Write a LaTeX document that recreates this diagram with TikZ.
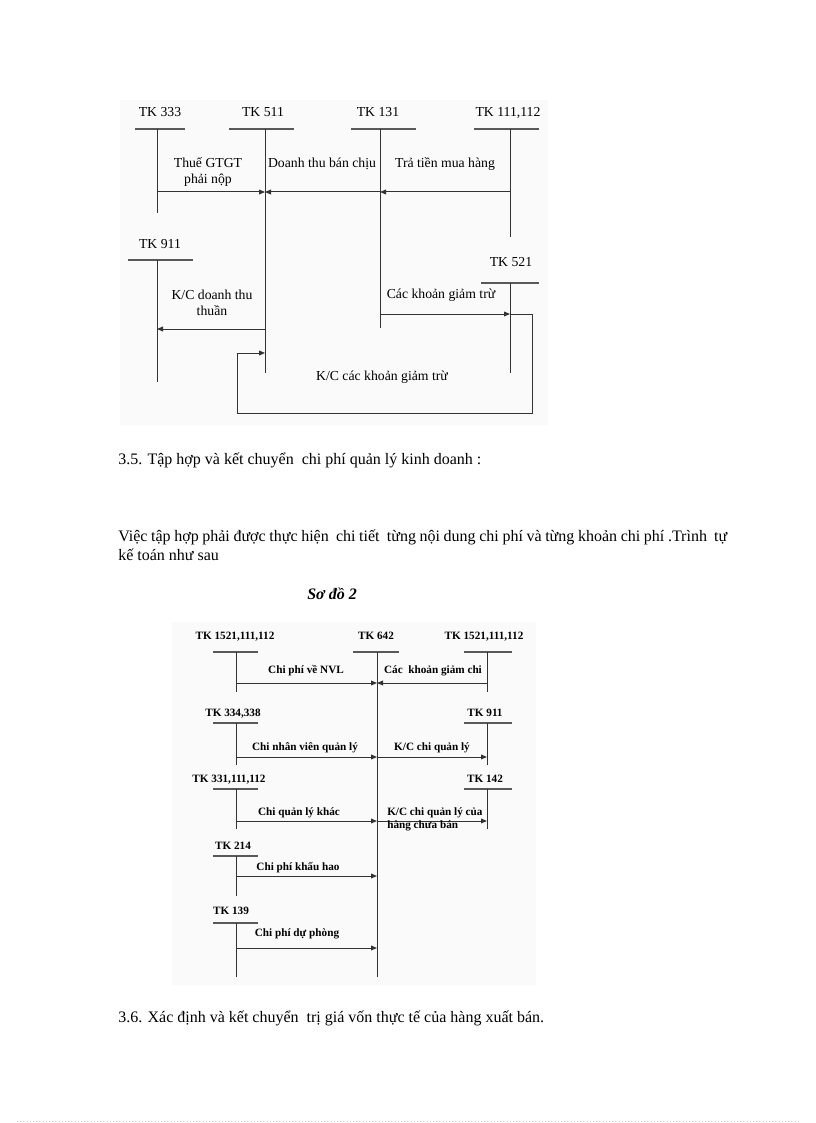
\documentclass[tikz,border=0pt]{standalone}
\usepackage{fontspec}
\setmainfont{Liberation Serif}
\usetikzlibrary{arrows.meta}
\begin{document}
\begin{tikzpicture}[x=0.75pt,y=-0.75pt,
  tline/.style={line width=0.75pt, draw=black!80},
  tbar/.style={line width=1.1pt, draw=black!65},
  arr/.style={tline,-{Triangle[length=4.5pt,width=3.6pt]}},
  lab/.style={font=\fontsize{10.3}{12}\selectfont, inner sep=0, align=center},
  lab1/.style={lab, text height=7pt, text depth=2.2pt},
  slab/.style={font=\fontsize{8.4}{8.4}\selectfont\bfseries, inner sep=0, align=center},
  slab1/.style={slab, text height=5.8pt, text depth=1.8pt},
  body/.style={font=\fontsize{12}{14.25}\selectfont, inner sep=0, anchor=west, text height=8.2pt, text depth=2.6pt},
  ]
\useasboundingbox (0,0) rectangle (816,1123);
\fill[black!2] (120,100) rectangle (548,425);
\fill[black!2] (172,622) rectangle (536,985);

% ---------------- top diagram ----------------
\node[lab1] (t333) at (160,113) {TK 333};
\draw[tbar] (135,129) -- (185,129);
\coordinate (v333) at (157,129);
\draw[tline] (v333) -- (157,213);

\node[lab1] (t511) at (263,113) {TK 511};
\draw[tbar] (229,129) -- (294,129);
\coordinate (v511) at (265,129);
\draw[tline] (v511) -- (265,373);

\node[lab1] (t131) at (378,113) {TK 131};
\draw[tbar] (351,129) -- (416,129);
\coordinate (v131) at (380,129);
\draw[tline] (v131) -- (380,328);

\node[lab1] (t111) at (508,113) {TK 111,112};
\draw[tbar] (474,129) -- (539,129);
\coordinate (v111) at (510,129);
\draw[tline] (v111) -- (510,237);

\node[lab1] (t911) at (160,245) {TK 911};
\draw[tbar] (128,260) -- (193,260);
\coordinate (v911) at (157,260);
\draw[tline] (v911) -- (157,382);

\node[lab1] (t521) at (511,263) {TK 521};
\draw[tbar] (481,283) -- (539,283);
\coordinate (v521) at (510,283);
\draw[tline] (v521) -- (510,373);

\coordinate (r1) at (0,192);
\coordinate (r2) at (0,314);
\coordinate (r3) at (0,329);
\coordinate (r4) at (0,353);
\coordinate (c1) at (532,314);
\coordinate (c2) at (532,413);
\coordinate (c3) at (237,413);
\coordinate (c4) at (237,353);

\draw[arr] (v333 |- r1) -- (v511 |- r1);
\draw[arr] (v131 |- r1) -- (v511 |- r1);
\draw[arr] (v111 |- r1) -- (v131 |- r1);
\draw[arr] (v511 |- r3) -- (v911 |- r3);
\draw[arr] (v131 |- r2) -- (v521 |- r2);
\draw[arr] (v521 |- r2) -- (c1) -- (c2) -- (c3) -- (c4) -- (v511 |- r4);

\node[lab] (l1) at (208,172) {Thuế GTGT\\phải nộp};
\node[lab1] (l2) at (322,164) {Doanh thu bán chịu};
\node[lab1] (l3) at (445,164) {Trả tiền mua hàng};
\node[lab] (l4) at (212,303) {K/C doanh thu\\thuần};
\node[lab1] (l5) at (441,295) {Các khoản giảm trừ};
\node[lab1] (l6) at (382,377) {K/C các khoản giảm trừ};

% ---------------- text ----------------
\node[body] (h35) at (118,461) {3.5. Tập hợp và kết chuyển\ \ chi phí quản lý kinh doanh :};
\node[anchor=north west, inner sep=0] (para) at (118,530) {\parbox{456.75pt}{\fontsize{12}{14.25}\selectfont Việc tập hợp phải được thực hiện\ \ chi tiết\ \ từng nội dung chi phí và từng khoản chi phí .Trình\ \ tự\linebreak kế toán như sau}};
\node[font=\fontsize{12}{14}\selectfont\bfseries\itshape, inner sep=0, text height=8.2pt, text depth=2.6pt] (sd2) at (332,596) {Sơ đồ 2};
\node[body] (h36) at (118,1019) {3.6. Xác định và kết chuyển\ \ trị giá vốn thực tế của hàng xuất bán.};

% ---------------- bottom diagram ----------------
\node[slab1] (bL1) at (235,637) {TK 1521,111,112};
\draw[tbar] (213,652) -- (258,652);
\coordinate (vL1) at (236,652);
\draw[tline] (vL1) -- (236,692);

\node[slab1] (b642) at (376,637) {TK 642};
\draw[tbar] (353,652) -- (399,652);
\coordinate (v642) at (377,652);
\draw[tline] (v642) -- (377,977);

\node[slab1] (bR1) at (484,637) {TK 1521,111,112};
\draw[tbar] (464,652) -- (512,652);
\coordinate (vR1) at (487,652);
\draw[tline] (vR1) -- (487,692);

\node[slab1] (bL2) at (233,714) {TK 334,338};
\draw[tbar] (213,723) -- (258,723);
\coordinate (vL2) at (236,723);
\draw[tline] (vL2) -- (236,765);

\node[slab1] (bR2) at (485,714) {TK 911};
\draw[tbar] (464,723) -- (512,723);
\coordinate (vR2) at (487,723);
\draw[tline] (vR2) -- (487,765);

\node[slab1] (bL3) at (229,780) {TK 331,111,112};
\draw[tbar] (213,789) -- (258,789);
\coordinate (vL3) at (236,789);
\draw[tline] (vL3) -- (236,829);

\node[slab1] (bR3) at (485,780) {TK 142};
\draw[tbar] (464,789) -- (512,789);
\coordinate (vR3) at (487,789);
\draw[tline] (vR3) -- (487,829);

\node[slab1] (bL4) at (233,847) {TK 214};
\draw[tbar] (213,856) -- (258,856);
\coordinate (vL4) at (236,856);
\draw[tline] (vL4) -- (236,896);

\node[slab1] (bL5) at (231,912) {TK 139};
\draw[tbar] (213,923) -- (258,923);
\coordinate (vL5) at (236,923);
\draw[tline] (vL5) -- (236,977);

\coordinate (b1) at (0,683);
\coordinate (b2) at (0,757);
\coordinate (b3) at (0,821);
\coordinate (b4) at (0,876);
\coordinate (b5) at (0,948);

\draw[arr] (vL1 |- b1) -- (v642 |- b1);
\draw[arr] (vR1 |- b1) -- (v642 |- b1);
\draw[arr] (vL2 |- b2) -- (v642 |- b2);
\draw[arr] (v642 |- b2) -- (vR2 |- b2);
\draw[arr] (vL3 |- b3) -- (v642 |- b3);
\draw[arr] (v642 |- b3) -- (vR3 |- b3);
\draw[arr] (vL4 |- b4) -- (v642 |- b4);
\draw[arr] (vL5 |- b5) -- (v642 |- b5);

\node[slab1] (m1) at (306,671) {Chi phí về NVL};
\node[slab1] (m2) at (433,671) {Các\ \ khoản giảm chi};
\node[slab1] (m3) at (305,748) {Chi nhân viên quản lý};
\node[slab1] (m4) at (432,748) {K/C chi quản lý};
\node[slab1] (m5) at (299,813) {Chi quản lý khác};
\node[slab1, anchor=west] (m6a) at (387,813) {K/C chi quản lý của};
\node[slab1, anchor=west] (m6b) at (387,826) {hàng chưa bán};
\node[slab1] (m7) at (298,868) {Chi phí khấu hao};
\node[slab1] (m8) at (297,934) {Chi phí dự phòng};

\draw[black!20, dotted] (17,1121) -- (800,1121);
\end{tikzpicture}
\end{document}
